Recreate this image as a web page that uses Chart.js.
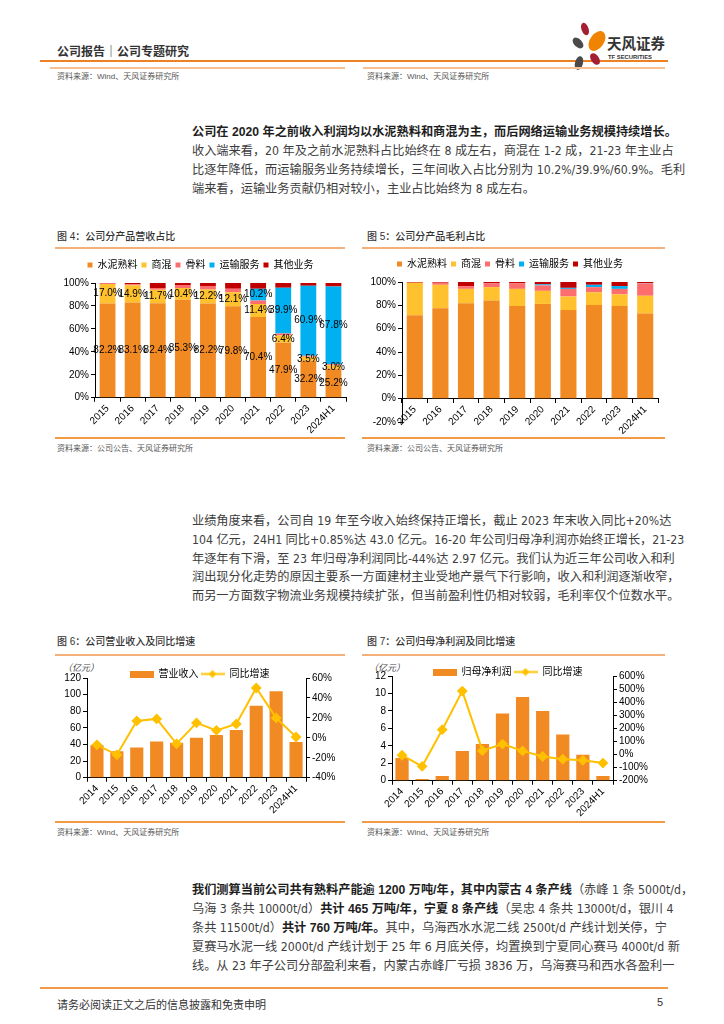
<!DOCTYPE html>
<html lang="zh-CN">
<head>
<meta charset="utf-8">
<script src="https://cdn.jsdelivr.net/npm/chart.js@4.4.1/dist/chart.umd.min.js"></script>
<style>
  html, body { margin: 0; padding: 0; background: #fff; }
  body {
    width: 724px; height: 1024px; position: relative; overflow: hidden;
    font-family: "Liberation Sans", "Noto Sans CJK SC", sans-serif; color: #333;
  }
  .abs { position: absolute; white-space: nowrap; }
  .rule { position: absolute; height: 0; }
  .txt {
    position: absolute; left: 192px; width: 473px; height: 19px; line-height: 19px;
    font-family: "Liberation Sans Narrow", "DejaVu Sans Condensed", "Noto Sans CJK SC", sans-serif;
    font-size: 12.2px; color: #3d3d3d; white-space: nowrap;
    text-align: justify; text-align-last: justify;
  }
  .txt.fim { text-align-last: left; }
  .txt b { color: #1e1e1e; font-family: "Liberation Sans", "Noto Sans CJK SC", sans-serif; }
  .fig { font-size: 10px; line-height: 12px; color: #333; font-weight: 500; }
  .fonte { font-size: 8px; line-height: 10px; color: #555; }
  .caixa { position: absolute; }
  .un { font-size: 9px; color: #444; font-style: italic; }
</style>
</head>
<body>

<!-- cabecalho -->
<div class="abs" style="left:57px; top:42px; font-size:12px; font-weight:bold; color:#333;">公司报告｜公司专题研究</div>
<div class="rule" style="left:40px; top:60px; width:628px; border-top:2px solid #EF8125;"></div>
<svg class="abs" style="left:570px; top:22px;" width="100" height="50" viewBox="0 0 100 50">
  <ellipse cx="15" cy="7" rx="3.5" ry="6.5" fill="#A31F34" transform="rotate(-20 15 7)"/>
  <ellipse cx="27" cy="19" rx="7" ry="11" fill="#F08300" transform="rotate(35 27 19)"/>
  <ellipse cx="8" cy="21" rx="4" ry="6.5" fill="#4A4A4A" transform="rotate(-45 8 21)"/>
  <ellipse cx="25" cy="37" rx="4" ry="6.5" fill="#A31F34" transform="rotate(-35 25 37)"/>
  <ellipse cx="9" cy="41" rx="4" ry="7" fill="#4A4A4A" transform="rotate(15 9 41)"/>
  <text x="37" y="27" font-size="15" font-weight="bold" fill="#333" font-family="Noto Sans CJK SC" textLength="58" lengthAdjust="spacingAndGlyphs">天风证券</text>
  <text x="38" y="37" font-size="5" font-weight="bold" fill="#333" font-family="Liberation Sans" textLength="44" lengthAdjust="spacingAndGlyphs">TF SECURITIES</text>
</svg>
<div class="rule" style="left:50px; top:67px; width:295px; border-top:2px solid #F7C195;"></div>
<div class="rule" style="left:363px; top:67px; width:302px; border-top:2px solid #F7C195;"></div>
<div class="abs fonte" style="left:57px; top:72px;">资料来源：Wind、天风证券研究所</div>
<div class="abs fonte" style="left:367px; top:72px;">资料来源：Wind、天风证券研究所</div>

<!-- paragrafo 1 -->
<div class="txt" style="top:123px;"><b>公司在 2020 年之前收入利润均以水泥熟料和商混为主，而后网络运输业务规模持续增长。</b></div>
<div class="txt" style="top:142px;">收入端来看，20 年及之前水泥熟料占比始终在 8 成左右，商混在 1-2 成，21-23 年主业占</div>
<div class="txt" style="top:161px;">比逐年降低，而运输服务业务持续增长，三年间收入占比分别为 10.2%/39.9%/60.9%。毛利</div>
<div class="txt fim" style="top:180px;">端来看，运输业务贡献仍相对较小，主业占比始终为 8 成左右。</div>

<!-- figuras 4 e 5 -->
<div class="abs fig" style="left:57px; top:231px;">图 4：公司分产品营收占比</div>
<div class="abs fig" style="left:367px; top:231px;">图 5：公司分产品毛利占比</div>
<div class="rule" style="left:55px; top:247px; width:290px; border-top:2px solid #F5B07A;"></div>
<div class="rule" style="left:362px; top:247px; width:303px; border-top:2px solid #F5B07A;"></div>
<div class="caixa" style="left:55px; top:259px; width:294px; height:178px;"><canvas id="g4"></canvas></div>
<div class="caixa" style="left:362px; top:258px; width:299px; height:178px;"><canvas id="g5"></canvas></div>
<div class="rule" style="left:55px; top:437px; width:290px; border-top:2px solid #F29A4A;"></div>
<div class="rule" style="left:362px; top:437px; width:303px; border-top:2px solid #F29A4A;"></div>
<div class="abs fonte" style="left:57px; top:444px;">资料来源：公司公告、天风证券研究所</div>
<div class="abs fonte" style="left:367px; top:444px;">资料来源：公司公告、天风证券研究所</div>

<!-- paragrafo 2 -->
<div class="txt" style="top:512px;">业绩角度来看，公司自 19 年至今收入始终保持正增长，截止 2023 年末收入同比+20%达</div>
<div class="txt" style="top:531px;">104 亿元，24H1 同比+0.85%达 43.0 亿元。16-20 年公司归母净利润亦始终正增长，21-23</div>
<div class="txt" style="top:550px;">年逐年有下滑，至 23 年归母净利润同比-44%达 2.97 亿元。我们认为近三年公司收入和利</div>
<div class="txt" style="top:568px;">润出现分化走势的原因主要系一方面建材主业受地产景气下行影响，收入和利润逐渐收窄，</div>
<div class="txt" style="top:587px;">而另一方面数字物流业务规模持续扩张，但当前盈利性仍相对较弱，毛利率仅个位数水平。</div>

<!-- figuras 6 e 7 -->
<div class="abs fig" style="left:57px; top:636px;">图 6：公司营业收入及同比增速</div>
<div class="abs fig" style="left:367px; top:636px;">图 7：公司归母净利润及同比增速</div>
<div class="rule" style="left:55px; top:654px; width:290px; border-top:2px solid #F5B07A;"></div>
<div class="rule" style="left:362px; top:654px; width:303px; border-top:2px solid #F5B07A;"></div>
<div class="abs un" style="left:63px; top:661px;">（亿元）</div>
<div class="abs un" style="left:369px; top:661px;">（亿元）</div>
<div class="caixa" style="left:57px; top:656px; width:285px; height:161px;"><canvas id="g6"></canvas></div>
<div class="caixa" style="left:360px; top:654px; width:295px; height:166px;"><canvas id="g7"></canvas></div>
<div class="rule" style="left:55px; top:821px; width:290px; border-top:2px solid #F29A4A;"></div>
<div class="rule" style="left:362px; top:821px; width:303px; border-top:2px solid #F29A4A;"></div>
<div class="abs fonte" style="left:57px; top:828px;">资料来源：Wind、天风证券研究所</div>
<div class="abs fonte" style="left:367px; top:828px;">资料来源：Wind、天风证券研究所</div>

<!-- paragrafo 3 -->
<div class="txt" style="top:881px;"><b>我们测算当前公司共有熟料产能逾 1200 万吨/年，其中内蒙古 4 条产线</b>（赤峰 1 条 5000t/d，</div>
<div class="txt" style="top:900px;">乌海 3 条共 10000t/d）<b>共计 465 万吨/年，宁夏 8 条产线</b>（吴忠 4 条共 13000t/d，银川 4</div>
<div class="txt" style="top:919px;">条共 11500t/d）<b>共计 760 万吨/年。</b>其中，乌海西水水泥二线 2500t/d 产线计划关停，宁</div>
<div class="txt" style="top:938px;">夏赛马水泥一线 2000t/d 产线计划于 25 年 6 月底关停，均置换到宁夏同心赛马 4000t/d 新</div>
<div class="txt" style="top:957px;">线。从 23 年子公司分部盈利来看，内蒙古赤峰厂亏损 3836 万，乌海赛马和西水各盈利一</div>

<!-- rodape -->
<div class="rule" style="left:40px; top:987px; width:628px; border-top:2px solid #F29A4A;"></div>
<div class="abs" style="left:57px; top:996px; font-size:11px; color:#333;">请务必阅读正文之后的信息披露和免责申明</div>
<div class="abs" style="left:657px; top:996px; font-size:11px; color:#333;">5</div>

<script>
// ---- dados ----
const anosMix = ['2015', '2016', '2017', '2018', '2019', '2020', '2021', '2022', '2023', '2024H1'];
const segmentos = ['水泥熟料', '商混', '骨料', '运输服务', '其他业务'];

// 营收占比 (%)
const recCimento   = [82.2, 83.1, 82.4, 85.3, 82.2, 79.8, 70.4, 47.9, 32.2, 25.2];
const recConcreto  = [17.0, 14.9, 11.7, 10.4, 12.2, 12.1, 11.4, 6.4, 3.5, 3.0];
const recAgregado  = [0.3, 1.0, 1.5, 2.5, 3.0, 3.0, 3.0, 1.7, 1.0, 1.0];
const recTransp    = [0, 0, 0, 0, 0, 0, 10.2, 39.9, 60.9, 67.8];
const recOutros    = [0.5, 1.0, 4.4, 1.8, 2.6, 5.1, 5.0, 4.1, 2.4, 3.0];

// 毛利占比 (%)
const lucCimento   = [71.5, 77.4, 81.8, 84.1, 79.4, 81.2, 75.9, 80.3, 79.4, 72.9];
const lucConcreto  = [27.9, 20.2, 12.3, 11.5, 14.7, 11.2, 11.7, 10.9, 10.0, 15.3];
const lucAgregado  = [-0.5, 1.8, 2.4, 3.2, 4.7, 4.7, 6.5, 4.4, 4.7, 10.6];
const lucTransp    = [0, 0, 0, 0, 0, 0.9, 0.9, 2.0, 2.4, 0.3];
const lucOutros    = [0.6, 0.6, 3.5, 1.2, 1.2, 2.0, 5.0, 2.4, 3.5, 0.9];

const anosFin = ['2014', '2015', '2016', '2017', '2018', '2019', '2020', '2021', '2022', '2023', '2024H1'];
const receita      = [39, 32, 36.5, 43.5, 42, 48, 51.5, 57.5, 86.5, 104, 43];
const receitaYoy   = [-7, -17, 17, 19, -6, 15, 7.5, 14, 50, 20, 0.85];
const lucroLiq     = [2.6, 0.2, 0.55, 3.4, 4.2, 7.7, 9.6, 8.0, 5.3, 2.97, 0.55];
const lucroYoy     = [-5, -90, 190, 485, 30, 80, 28, -15, -35, -44, -65];

// ---- cores ----
const COR_CIMENTO = '#F28A23';
const COR_CONCRETO = '#FFC12E';
const COR_AGREGADO = '#FF6E6E';
const COR_TRANSP = '#00B0F0';
const COR_OUTROS = '#C00000';
const COR_LINHA = '#FFC000';
const coresMix = [COR_CIMENTO, COR_CONCRETO, COR_AGREGADO, COR_TRANSP, COR_OUTROS];

Chart.defaults.font.family = '"Liberation Sans", "Noto Sans CJK SC", sans-serif';
Chart.defaults.font.size = 10;
Chart.defaults.color = '#000';
Chart.defaults.animation = false;

const fonteTick = { size: 10 };

// eixo com tracinhos para fora, sem grade
const gradeEixo = { display: true, drawOnChartArea: false, drawTicks: true, tickLength: 4, color: '#000' };
const bordaEixo = { display: true, color: '#000', width: 1 };

// rótulos de percentual dentro das barras
const pluginRotulos = {
  id: 'rotulos',
  afterDatasetsDraw(chart, args, opts) {
    if (!opts.datasets) return;
    const ctx = chart.ctx;
    ctx.save();
    ctx.font = '10px "Liberation Sans"';
    ctx.fillStyle = '#000';
    ctx.textAlign = 'center';
    ctx.textBaseline = 'middle';
    opts.datasets.forEach(i => {
      const meta = chart.getDatasetMeta(i);
      meta.data.forEach((barra, j) => {
        const v = chart.data.datasets[i].data[j];
        if (!v) return;
        ctx.fillText(v.toFixed(1) + '%', barra.x, (barra.y + barra.base) / 2);
      });
    });
    ctx.restore();
  }
};

// desloca a legenda alguns px na vertical
const pluginDesceLegenda = {
  id: 'desceLegenda',
  afterLayout(chart, args, opts) {
    const dy = opts.dy || 0;
    if (!chart.legend || !dy) return;
    chart.legend.top += dy;
    chart.legend.bottom += dy;
  }
};

function graficoMix(id, series, minY, rotulos) {
  const eixoX = {
    stacked: true,
    grid: gradeEixo,
    border: bordaEixo,
    ticks: { font: fonteTick, minRotation: 45, maxRotation: 45, padding: 1, autoSkip: false }
  };
  if (minY < 0) eixoX.position = { y: 0 };
  return new Chart(document.getElementById(id), {
    type: 'bar',
    data: {
      labels: anosMix,
      datasets: series.map((d, i) => ({
        label: segmentos[i],
        data: d,
        backgroundColor: coresMix[i],
        barPercentage: 0.63,
        categoryPercentage: 1
      }))
    },
    options: {
      responsive: true,
      maintainAspectRatio: false,
      layout: { padding: { top: 0, right: 3, bottom: minY < 0 ? 14 : 0 } },
      plugins: {
        legend: {
          display: true,
          position: 'top',
          labels: { boxWidth: 5, boxHeight: 5, padding: 4, font: { size: 10 } }
        },
        tooltip: { enabled: false },
        rotulos: { datasets: rotulos },
        desceLegenda: { dy: -3 }
      },
      scales: {
        x: eixoX,
        y: {
          stacked: true,
          min: minY,
          max: 100,
          afterFit: s => { s.width = 40; },
          grid: gradeEixo,
          border: bordaEixo,
          ticks: { font: fonteTick, stepSize: 20, padding: 2, autoSkip: false, callback: v => v + '%' }
        }
      }
    },
    plugins: [pluginRotulos, pluginDesceLegenda]
  });
}

graficoMix('g4', [recCimento, recConcreto, recAgregado, recTransp, recOutros], 0, [0, 1, 3]);
graficoMix('g5', [lucCimento, lucConcreto, lucAgregado, lucTransp, lucOutros], -20, null);

// ícones da legenda (barra e linha com losango)
function iconeBarra() {
  const c = document.createElement('canvas');
  c.width = 24; c.height = 7;
  const g = c.getContext('2d');
  g.fillStyle = COR_CIMENTO;
  g.fillRect(0, 0, 24, 7);
  return c;
}
function iconeLinha() {
  const c = document.createElement('canvas');
  c.width = 24; c.height = 9;
  const g = c.getContext('2d');
  g.strokeStyle = COR_LINHA;
  g.lineWidth = 2;
  g.beginPath(); g.moveTo(0, 4.5); g.lineTo(24, 4.5); g.stroke();
  g.fillStyle = COR_LINHA;
  g.beginPath(); g.moveTo(12, 0.5); g.lineTo(16, 4.5); g.lineTo(12, 8.5); g.lineTo(8, 4.5); g.closePath(); g.fill();
  return c;
}

function graficoFin(id, nomeBarra, barras, linha, y1Min, y1Max, y1Passo, yMax, yPasso, larguraY, larguraY1) {
  return new Chart(document.getElementById(id), {
    type: 'bar',
    data: {
      labels: anosFin,
      datasets: [
        {
          type: 'bar',
          label: nomeBarra,
          data: barras,
          backgroundColor: COR_CIMENTO,
          barPercentage: 0.66,
          categoryPercentage: 1,
          yAxisID: 'y',
          order: 2
        },
        {
          type: 'line',
          label: '同比增速',
          data: linha,
          borderColor: COR_LINHA,
          backgroundColor: COR_LINHA,
          borderWidth: 2,
          tension: 0,
          pointStyle: 'rectRot',
          pointRadius: 4,
          pointBackgroundColor: COR_LINHA,
          pointBorderColor: COR_LINHA,
          yAxisID: 'y1',
          order: 1
        }
      ]
    },
    options: {
      responsive: true,
      maintainAspectRatio: false,
      layout: { padding: { top: 0, right: 0 } },
      plugins: {
        legend: {
          display: true,
          position: 'top',
          labels: {
            usePointStyle: true,
            pointStyleWidth: 24,
            padding: 2,
            font: { size: 10 },
            generateLabels: chart => [
              { text: chart.data.datasets[0].label, pointStyle: iconeBarra(), fillStyle: COR_CIMENTO, strokeStyle: 'transparent', lineWidth: 0, hidden: false, datasetIndex: 0 },
              { text: chart.data.datasets[1].label, pointStyle: iconeLinha(), fillStyle: COR_LINHA, strokeStyle: 'transparent', lineWidth: 0, hidden: false, datasetIndex: 1 }
            ]
          }
        },
        tooltip: { enabled: false },
        desceLegenda: { dy: 11 }
      },
      scales: {
        x: {
          grid: gradeEixo,
          border: bordaEixo,
          ticks: { font: fonteTick, minRotation: 45, maxRotation: 45, padding: 1, autoSkip: false }
        },
        y: {
          position: 'left',
          min: 0,
          max: yMax,
          afterFit: s => { s.width = larguraY; },
          grid: gradeEixo,
          border: bordaEixo,
          ticks: { font: fonteTick, stepSize: yPasso, padding: 2, autoSkip: false }
        },
        y1: {
          position: 'right',
          min: y1Min,
          max: y1Max,
          afterFit: s => { s.width = larguraY1; },
          grid: gradeEixo,
          border: bordaEixo,
          ticks: { font: fonteTick, stepSize: y1Passo, padding: 2, autoSkip: false, callback: v => v + '%' }
        }
      }
    },
    plugins: [pluginDesceLegenda]
  });
}

graficoFin('g6', '营业收入', receita, receitaYoy, -40, 60, 20, 120, 20, 30, 36);
graficoFin('g7', '归母净利润', lucroLiq, lucroYoy, -200, 600, 100, 12, 2, 32, 42);
</script>
</body>
</html>
